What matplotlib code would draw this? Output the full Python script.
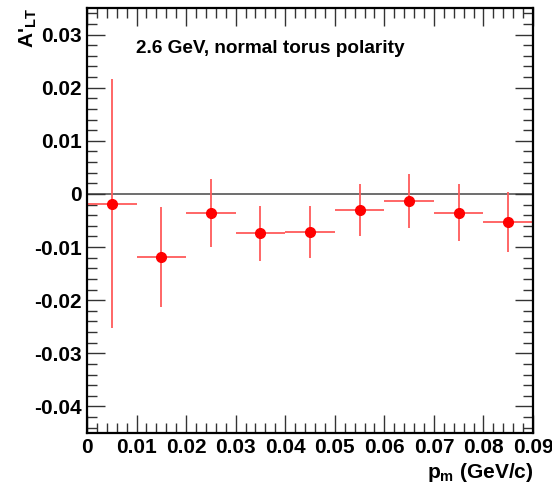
import matplotlib
matplotlib.use("Agg")
import matplotlib.pyplot as plt
from matplotlib.ticker import MultipleLocator, FormatStrFormatter

plt.rcParams['font.family'] = ['Liberation Sans', 'DejaVu Sans']
plt.rcParams['font.weight'] = 'bold'
plt.rcParams['mathtext.fontset'] = 'custom'
plt.rcParams['mathtext.rm'] = 'Liberation Sans:bold'
plt.rcParams['mathtext.it'] = 'Liberation Sans:bold'
plt.rcParams['mathtext.default'] = 'rm'

# bin centres (GeV/c) and half bin widths
pm = [0.005, 0.015, 0.025, 0.035, 0.045, 0.055, 0.065, 0.075, 0.085]
pm_err = [0.005] * 9
# A'_LT values and errors
alt = [-0.0018, -0.0118, -0.0036, -0.0074, -0.0071, -0.0031, -0.0013, -0.0035, -0.0053]
alt_err = [0.0235, 0.0094, 0.0064, 0.0052, 0.0049, 0.0049, 0.0051, 0.0054, 0.0057]

fig = plt.figure(figsize=(5.52, 4.91), dpi=100)
ax = fig.add_axes([87/552, 1-433/491, 446/552, 425/491])

ax.axhline(0, color='#555555', lw=1.2, zorder=1)
ax.errorbar(pm, alt, xerr=pm_err, yerr=alt_err, fmt='none', ecolor='#ff5a5a', elinewidth=1.3, zorder=2)
ax.plot(pm, alt, 'o', color='#ff0000', ms=7, zorder=3)

ax.set_xlim(0, 0.09)
ax.set_ylim(-0.045, 0.035)
ax.xaxis.set_major_locator(MultipleLocator(0.01))
ax.xaxis.set_minor_locator(MultipleLocator(0.002))
ax.yaxis.set_major_locator(MultipleLocator(0.01))
ax.yaxis.set_minor_locator(MultipleLocator(0.002))
ax.xaxis.set_major_formatter(FormatStrFormatter('%g'))
ax.yaxis.set_major_formatter(FormatStrFormatter('%g'))
ax.tick_params(which='both', direction='in', top=True, right=True, width=1, color='#333333')
ax.tick_params(which='major', length=13, labelsize=15, pad=3.5)
ax.tick_params(which='minor', length=7)
for s in ax.spines.values():
    s.set_linewidth(1.6)
for lab in ax.get_xticklabels() + ax.get_yticklabels():
    lab.set_fontweight('bold')

ax.text(0.11, 0.905, '2.6 GeV, normal torus polarity', transform=ax.transAxes,
        fontsize=13.7, fontweight='bold', va='center', ha='left')

fig.text(28/552, 1-8/491, "A'$_{LT}$", rotation=90, ha='center', va='top', fontsize=15, fontweight='bold')
fig.text(533/552, 1-478/491, "p$_{m}$ (GeV/c)", ha='right', va='baseline', fontsize=15, fontweight='bold')

fig.savefig('out.png', dpi=100)
